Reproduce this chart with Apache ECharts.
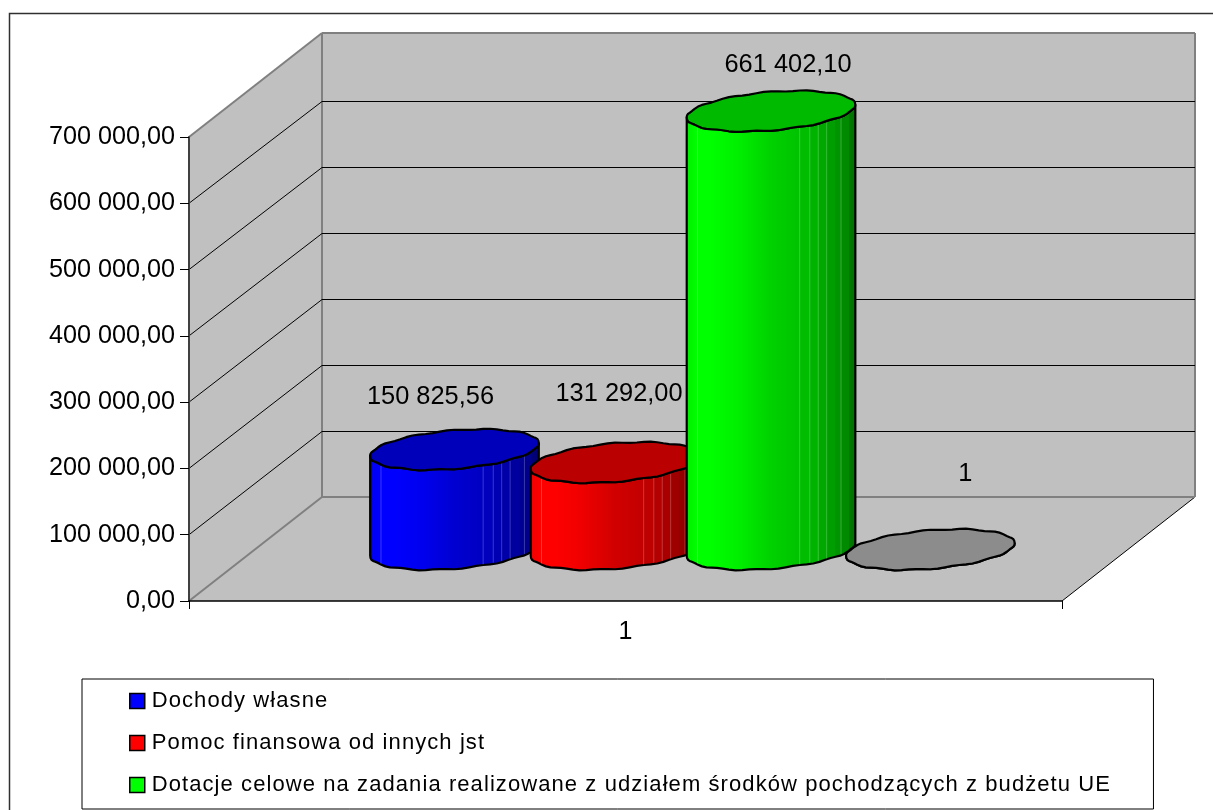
<!DOCTYPE html>
<html>
<head>
<meta charset="utf-8">
<style>html,body{margin:0;padding:0;background:#fff}#c{width:1213px;height:810px}</style>
<script src="https://cdn.jsdelivr.net/npm/echarts@6/dist/echarts.min.js"></script>
</head>
<body>
<div id="c"></div>
<script>
const categories = ['1'];
const tickValues = [0, 100000, 200000, 300000, 400000, 500000, 600000, 700000];
const seriesNames = [
  'Dochody własne',
  'Pomoc finansowa od innych jst',
  'Dotacje celowe na zadania realizowane z udziałem środków pochodzących z budżetu UE',
  'Pozostałe'
];
const dochodyWlasne = [150825.56];
const pomocFinansowa = [131292.00];
const dotacjeCelowe = [661402.10];
const pozostale = [1];

const colors = ['#0000FF', '#FF0000', '#00FF00', '#C0C0C0'];
const FONT = '"Liberation Sans", Arial, sans-serif';
const DEPTH = [133, -104];

// the reference's legend text is letter-spaced; canvas text can do that natively
const LEGEND_FONT_SIZE = 22;
const protoCtx = CanvasRenderingContext2D.prototype;
const baseFillText = protoCtx.fillText;
protoCtx.fillText = function (t, x, y, m) {
  this.letterSpacing = this.font.indexOf(LEGEND_FONT_SIZE + 'px') === 0 ? '1.08px' : '0px';
  return m === undefined ? baseFillText.call(this, t, x, y) : baseFillText.call(this, t, x, y, m);
};

// style: cylinder placement as fraction of the category band, label nudges in px
const bandShift = [-0.1959, -0.0120, 0.1667, 0.3492];
const labelNudge = [[-24, -53], [4, -68], [17, -46], [35, -75]];
const RX = 84.3, RY = 19.3, SKEW = 6.5, LIFT = 51.5;

const shadeStops = [
  [0, .93], [.07, 1], [.14, 1], [.30, .94], [.50, .82], [.67, .76],
  [.67, .74], [.73, .74], [.73, .70], [.78, .70], [.78, .66], [.83, .66],
  [.83, .62], [.875, .62], [.875, .58], [.915, .58], [.915, .54], [.955, .54], [.955, .48], [1, .44]
];
const facetLines = [.064, .67, .73, .78, .83, .915];

function shade(hex, k) {
  const n = parseInt(hex.slice(1), 16);
  const c = [(n >> 16) & 255, (n >> 8) & 255, n & 255].map(v => Math.round(v * k));
  return 'rgb(' + c.join(',') + ')';
}
function ptOn(cx, cy, t) {
  const wob = 0.55 * Math.sin(13 * t + 0.6);
  return [cx + RX * Math.cos(t), cy + RY * Math.sin(t) - SKEW * Math.cos(t) + wob];
}
function arc(cx, cy, from, to, n) {
  const out = [];
  for (let i = 0; i <= n; i++) out.push(ptOn(cx, cy, from + (to - from) * i / n));
  return out;
}
function fmtAxis(v) {
  const s = v.toFixed(2).replace('.', ',');
  const p = s.split(',');
  return p[0].replace(/\B(?=(\d{3})+$)/g, ' ') + ',' + p[1];
}
function fmtLabel(v) { return v === 1 ? '1' : fmtAxis(v); }

function renderWalls(params, api) {
  const v = api.value(0);
  const band = api.size([1, 0])[0];
  const p = api.coord([0, v]);
  const x0 = p[0] - band / 2, x1 = p[0] + band / 2, y = p[1];
  const maxV = tickValues[tickValues.length - 1];
  const dx = DEPTH[0], dy = DEPTH[1] + (v < maxV ? 0.0000029 * v : 0);
  const ch = [];
  const edge = v === 0 || v === maxV;
  const backY = Math.round(y + dy) + (edge ? 0 : 0.5);
  if (params.dataIndex === 0) {
    const top = api.coord([0, maxV])[1];
    const fill = { fill: '#C0C0C0' };
    ch.push({ type: 'polygon', shape: { points: [[x0 + dx, top + dy], [x1 + dx, top + dy], [x1 + dx, y + dy], [x0 + dx, y + dy]] }, style: fill });
    ch.push({ type: 'polygon', shape: { points: [[x0, top], [x0 + dx, top + dy], [x0 + dx, y + dy], [x0, y]] }, style: fill });
    ch.push({ type: 'polygon', shape: { points: [[x0, y], [x1, y], [x1 + dx, y + dy], [x0 + dx, y + dy]] }, style: fill });
    ch.push({ type: 'line', shape: { x1: x0 + dx, y1: top + dy, x2: x0 + dx, y2: y + dy }, style: { stroke: '#808080', lineWidth: 2 } });
    ch.push({ type: 'line', shape: { x1: x1 + dx, y1: top + dy, x2: x1 + dx, y2: y + dy }, style: { stroke: '#808080', lineWidth: 2 } });
    ch.push({ type: 'line', shape: { x1: x1, y1: y, x2: x1 + dx, y2: y + dy }, style: { stroke: '#000', lineWidth: 1 } });
  }
  const st = edge ? { stroke: '#808080', lineWidth: 2 } : { stroke: '#000', lineWidth: 1 };
  ch.push({ type: 'line', shape: { x1: x0, y1: y, x2: x0 + dx, y2: backY }, style: st });
  ch.push({ type: 'line', shape: { x1: x0 + dx, y1: backY, x2: x1 + dx, y2: backY }, style: st });
  return { type: 'group', children: ch };
}

function makeCylinder(idx) {
  return function (params, api) {
    const val = api.value(1);
    const cat = api.value(0);
    const band = api.size([1, 0])[0];
    const topP = api.coord([cat, val]);
    const baseP = api.coord([cat, 0]);
    const cx = topP[0] + band * bandShift[idx];
    const topY = topP[1] - LIFT, baseY = baseP[1] - LIFT;
    const col = colors[idx];
    const stops = shadeStops.map(s => ({ offset: s[0], color: shade(col, s[1]) }));
    const front = arc(cx, baseY, Math.PI, 0, 36);
    const topFront = arc(cx, topY, 0, Math.PI, 36);
    const lid = arc(cx, topY, 0, Math.PI * 2, 72);
    const ch = [];
    ch.push({
      type: 'polygon',
      shape: { points: front.concat(topFront) },
      style: { fill: new echarts.graphic.LinearGradient(0, 0, 1, 0, stops), stroke: '#000', lineWidth: 2.2, lineJoin: 'round' }
    });
    if (topY < baseY - 5) {
      facetLines.forEach(f => {
        const x = cx - RX + 2 * RX * f;
        const t = Math.acos((x - cx) / RX);
        const yb = RY * Math.sin(t) - SKEW * Math.cos(t);
        ch.push({ type: 'line', shape: { x1: x, y1: topY + yb + 1, x2: x, y2: baseY + yb - 1 }, style: { stroke: 'rgba(255,255,255,0.22)', lineWidth: 1 } });
      });
    }
    ch.push({ type: 'polygon', shape: { points: lid }, style: { fill: shade(col, 0.73), stroke: '#000', lineWidth: 2.2, lineJoin: 'round' } });
    ch.push({
      type: 'text',
      style: {
        text: fmtLabel(val),
        x: cx + labelNudge[idx][0],
        y: topY + labelNudge[idx][1],
        align: 'center', verticalAlign: 'middle',
        fill: '#000', font: '25.4px ' + FONT
      }
    });
    return { type: 'group', children: ch };
  };
}

function cyl(idx, values) {
  return {
    name: seriesNames[idx],
    type: 'custom',
    coordinateSystem: 'cartesian2d',
    renderItem: makeCylinder(idx),
    encode: { x: 0, y: 1 },
    itemStyle: { color: colors[idx] },
    data: values.map((v, i) => [i, v]),
    z: 2,
    silent: true
  };
}

const chart = echarts.init(document.getElementById('c'), null, { renderer: 'canvas' });
chart.setOption({
  animation: false,
  backgroundColor: '#fff',
  textStyle: { fontFamily: FONT },
  grid: { left: 189, right: 151, top: 137, bottom: 209, containLabel: false },
  graphic: [{
    type: 'polyline', z: 1, silent: true,
    shape: { points: [[9.5, 810], [9.5, 13.5], [1213, 13.5]] },
    style: { stroke: '#303030', lineWidth: 1.5, fill: null }
  }],
  legend: {
    left: 82, top: 679,
    orient: 'vertical',
    align: 'left',
    padding: [11, 131, 13, 47],
    itemWidth: 15, itemHeight: 15, itemGap: 20,
    borderColor: '#000', borderWidth: 1,
    selectedMode: false,
    textStyle: { fontFamily: FONT, fontSize: LEGEND_FONT_SIZE, color: '#000', padding: [0, 0, 0, 2] },
    data: seriesNames.slice(0, 3).map((n, i) => ({
      name: n, icon: 'rect',
      itemStyle: { color: colors[i], borderColor: '#000', borderWidth: 1.5 }
    }))
  },
  xAxis: {
    type: 'category',
    data: categories,
    z: 3,
    axisLine: { lineStyle: { color: '#000', width: 1.5 } },
    axisTick: { show: true, length: 8, lineStyle: { color: '#000' } },
    axisLabel: { color: '#000', fontSize: 25, fontFamily: FONT, margin: 19 },
    splitLine: { show: false }
  },
  yAxis: {
    type: 'value',
    min: 0, max: 700000, interval: 100000,
    z: 3,
    axisLine: { show: true, lineStyle: { color: '#404040', width: 2 } },
    axisTick: { show: true, length: 9, lineStyle: { color: '#000' } },
    axisLabel: { color: '#000', fontSize: 25.2, fontFamily: FONT, margin: 14, formatter: fmtAxis },
    splitLine: { show: false }
  },
  series: [
    {
      type: 'custom', coordinateSystem: 'cartesian2d', renderItem: renderWalls, silent: true, z: 1,
      encode: { y: 0 }, data: tickValues.map(v => [v])
    },
    cyl(0, dochodyWlasne),
    cyl(1, pomocFinansowa),
    cyl(3, pozostale),
    cyl(2, dotacjeCelowe)
  ]
});
</script>
</body>
</html>
